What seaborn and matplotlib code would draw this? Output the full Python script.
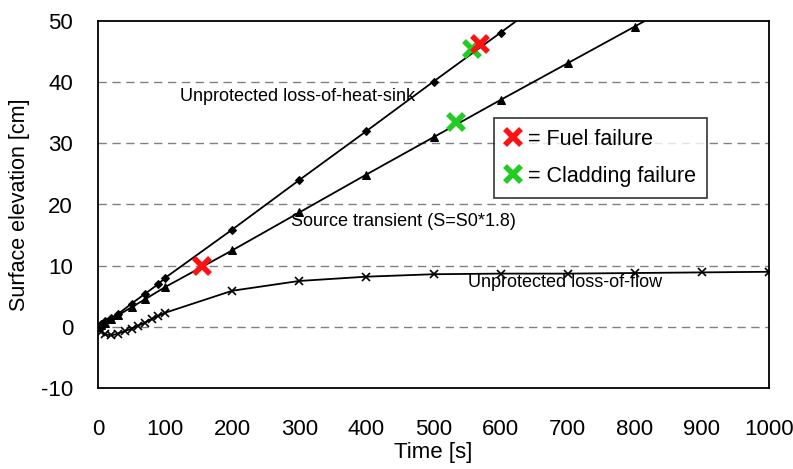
import matplotlib
matplotlib.use("Agg")
import matplotlib.pyplot as plt
import seaborn as sns
import pandas as pd
from matplotlib.lines import Line2D

# ---- data ----
heat_t = [0, 5, 10, 20, 30, 50, 70, 90, 100, 200, 300, 400, 500, 600, 700]
heat_y = [0, 0.4, 0.9, 1.5, 2.1, 3.8, 5.4, 7.0, 8.0, 15.9, 24.0, 32.0, 40.1, 48.1, 56.2]

src_t = [0, 5, 10, 20, 30, 50, 70, 100, 200, 300, 400, 500, 600, 700, 800, 900]
src_y = [0, 0.3, 0.7, 1.3, 1.9, 3.2, 4.5, 6.5, 12.5, 18.7, 24.9, 31.0, 37.1, 43.1, 49.1, 55.2]

flow_t = [0, 5, 10, 20, 30, 40, 50, 60, 70, 80, 90, 100, 200, 300, 400, 500, 600, 700, 800, 900, 1000]
flow_y = [0, -0.8, -1.2, -1.4, -1.1, -0.7, -0.3, 0.2, 0.7, 1.3, 1.8, 2.3, 5.9, 7.5, 8.2, 8.6, 8.7, 8.7, 8.8, 8.9, 9.0]

fuel_t = [155, 569]
fuel_y = [10.0, 46.2]
clad_t = [557, 533]
clad_y = [45.4, 33.5]

series_labels = ["Unprotected loss-of-heat-sink", "Source transient (S=S0*1.8)", "Unprotected loss-of-flow"]
xticks = list(range(0, 1001, 100))
yticks = list(range(-10, 51, 10))

sns.set_theme(style="white")
plt.rcParams['font.family'] = ['Liberation Sans', 'DejaVu Sans']
plt.rcParams['axes.unicode_minus'] = False
plt.rcParams['text.color'] = 'black'
plt.rcParams['axes.labelcolor'] = 'black'

fig = plt.figure(figsize=(7.93, 4.69), dpi=100)
ax = fig.add_axes([98/793, 1-388/469, (769-98)/793, (388-21)/469])

for yv in yticks[1:-1]:
    ax.axhline(yv, color="#808080", lw=1.0, ls=(0, (6, 4)), zorder=0)

df_heat = pd.DataFrame({"t": heat_t, "y": heat_y})
df_src = pd.DataFrame({"t": src_t, "y": src_y})
df_flow = pd.DataFrame({"t": flow_t, "y": flow_y})

sns.lineplot(data=df_heat, x="t", y="y", ax=ax, color="black", lw=1.3,
             marker="D", markersize=4.5, markeredgecolor="black", sort=False)
sns.lineplot(data=df_src, x="t", y="y", ax=ax, color="black", lw=1.3,
             marker="^", markersize=6, markeredgecolor="black", sort=False)
sns.lineplot(data=df_flow, x="t", y="y", ax=ax, color="black", lw=1.3,
             marker="x", markersize=6, markeredgewidth=1.2, markeredgecolor="black", sort=False)

ax.plot(clad_t, clad_y, ls="none", marker="x", ms=12, mew=4, color="#22cc22", zorder=5)
ax.plot(fuel_t, fuel_y, ls="none", marker="x", ms=12, mew=4, color="#ff1111", zorder=5)

ax.text(122, 37.7, series_labels[0], fontsize=13, va="center", ha="left", color="black")
ax.text(288, 17.2, series_labels[1], fontsize=13, va="center", ha="left", color="black")
ax.text(551, 7.2, series_labels[2], fontsize=13, va="center", ha="left", color="black")

handles = [Line2D([], [], ls="none", marker="x", ms=11, mew=4, color="#ff1111"),
           Line2D([], [], ls="none", marker="x", ms=11, mew=4, color="#22cc22")]
leg = ax.legend(handles, ["= Fuel failure", "= Cladding failure"], loc="upper left",
                bbox_to_anchor=(0.590, 0.736), fontsize=15.5, frameon=True, fancybox=False,
                handlelength=0.8, handletextpad=0.3, borderpad=0.5, labelspacing=0.75,
                borderaxespad=0)
leg.get_frame().set_edgecolor("black")
leg.get_frame().set_linewidth(1.2)
for t in leg.get_texts():
    t.set_color("black")

ax.set_xlim(0, 1000)
ax.set_ylim(-10, 50)
ax.set_xticks(xticks)
ax.set_yticks(yticks)
ax.tick_params(axis="both", labelsize=16, direction="in", length=5, width=1,
               color="#555555", labelcolor="black")
ax.tick_params(axis="x", pad=22)
ax.tick_params(axis="y", pad=18, length=0)
for s in ax.spines.values():
    s.set_color("black")
    s.set_linewidth(1.3)
ax.set_xlabel("Time [s]", fontsize=16, labelpad=2, color="black")
ax.set_ylabel("Surface elevation [cm]", fontsize=15.5, labelpad=8, color="black")

fig.savefig("out.png", dpi=100)
